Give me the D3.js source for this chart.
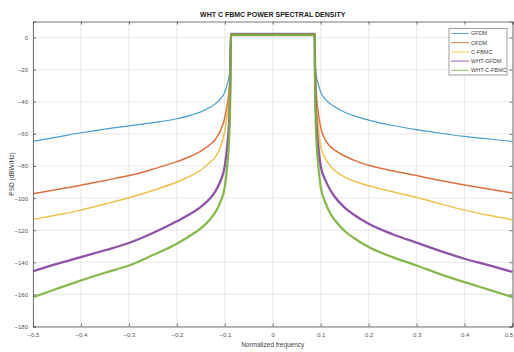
<!DOCTYPE html>
<html>
<head>
<meta charset="utf-8">
<script src="https://cdn.jsdelivr.net/npm/d3@7"></script>
<style>
  body { margin: 0; background: #fff; }
  svg { display: block; font-family: "Liberation Sans", Arial, sans-serif; }
</style>
</head>
<body>
<div id="visualizationBody"></div>
<script>
// normalized frequency samples (one value per point in every series)
const freq = [-0.5, -0.45, -0.4, -0.35, -0.3, -0.25, -0.2, -0.17, -0.15, -0.13, -0.12, -0.11, -0.1, -0.095, -0.09, -0.088, -0.0875,
              0.0875, 0.088, 0.09, 0.095, 0.1, 0.11, 0.12, 0.13, 0.15, 0.17, 0.2, 0.25, 0.3, 0.35, 0.4, 0.45, 0.5];

const gfdm = [-64.6, -62, -59.3, -57, -55, -53, -50.6, -48.3, -46.3, -43.3, -41.3, -38.5, -34, -29, -22, -8, 2.6,
              2.6, -8, -22, -29, -34, -38.5, -41.3, -43.3, -46.5, -48.8, -51.4, -54.8, -57.4, -59.6, -61.6, -63.2, -64.7];
const ofdm = [-97.3, -94.7, -92, -89, -86, -82, -77.3, -73.8, -70.8, -66.5, -63.5, -58.5, -50, -42, -28, -10, 2.2,
              2.2, -10, -30, -47, -56, -64, -67.8, -70.3, -73.8, -76.5, -79.5, -83, -86, -89, -91.8, -94.4, -96.9];
const cfbmc = [-113.3, -110.5, -107.5, -103.7, -99.8, -95.3, -90, -86, -82.5, -77.5, -74.5, -69, -58, -48, -31, -12, 2.0,
               2.0, -12, -35, -55, -68, -75.5, -80, -83, -87, -89.5, -92.3, -96, -99.6, -103.6, -107.5, -110.7, -113.5];
const whtGfdm = [-145.6, -141, -136.8, -132.5, -128, -121.8, -114.5, -109.5, -105.5, -100, -96, -90, -80, -68, -45, -15, 1.8,
                 1.8, -15, -45, -68, -80, -89, -95, -99.5, -106, -110.5, -116, -122.5, -127.8, -133, -137.8, -141.8, -146];
const whtCfbmc = [-161.8, -156.5, -151.3, -146.5, -142, -135.5, -128.4, -123, -118.8, -113, -109, -103, -93, -80, -55, -18, 1.5,
                  1.5, -18, -55, -80, -93, -103, -109.5, -114, -120.5, -125, -130.5, -136.8, -142, -147.5, -152.4, -157, -161.7];

const seriesNames = ['GFDM', 'OFDM', 'C-FBMC', 'WHT-GFDM', 'WHT-C-FBMC'];
const seriesValues = [gfdm, ofdm, cfbmc, whtGfdm, whtCfbmc];
const seriesColors = ['#3592cc', '#d9602a', '#ecbb35', '#8440a0', '#7cb03a'];
const seriesWidths = [1.2, 1.5, 1.5, 2.3, 2.3];

const xTicks = [-0.5, -0.4, -0.3, -0.2, -0.1, 0, 0.1, 0.2, 0.3, 0.4, 0.5];
const yTicks = [0, -20, -40, -60, -80, -100, -120, -140, -160, -180];

const width = 514, height = 352;
const margin = {top: 21.5, right: 1.5, bottom: 25.5, left: 33};

const svg = d3.select('#visualizationBody')
              .append('svg')
              .attr('width', width)
              .attr('height', height);

const x = d3.scaleLinear()
            .domain([-0.5, 0.5])
            .range([margin.left, width - margin.right]);

const y = d3.scaleLinear()
            .domain([-180, 10])
            .range([height - margin.bottom, margin.top]);

// grid
svg.append('g')
   .selectAll('line')
   .data(xTicks)
   .enter()
   .append('line')
     .attr('x1', function(d) { return x(d); })
     .attr('x2', function(d) { return x(d); })
     .attr('y1', y(10))
     .attr('y2', y(-180))
     .style('stroke', '#e3e3e3')
     .style('stroke-width', 0.8);

svg.append('g')
   .selectAll('line')
   .data(yTicks)
   .enter()
   .append('line')
     .attr('x1', x(-0.5))
     .attr('x2', x(0.5))
     .attr('y1', function(d) { return y(d); })
     .attr('y2', function(d) { return y(d); })
     .style('stroke', '#e3e3e3')
     .style('stroke-width', 0.8);

// curves
const line = d3.line()
               .x(function(d) { return x(d[0]); })
               .y(function(d) { return y(d[1]); })
               .curve(d3.curveMonotoneX);

const plotArea = svg.append('g');
seriesValues.forEach(function(vals, i) {
    plotArea.append('path')
        .datum(freq.map(function(f, j) { return [f, vals[j]]; }))
        .attr('d', line)
        .style('fill', 'none')
        .style('stroke', seriesColors[i])
        .style('stroke-width', seriesWidths[i])
        .style('opacity', 0.9);
});

// axes, matlab-style box with inward ticks
const axisColor = '#555';
const bottomAxis = d3.axisBottom(x).tickValues(xTicks).tickSize(-3).tickPadding(6)
                     .tickFormat(function(d) { return d3.format('')(d); });
const topAxis = d3.axisTop(x).tickValues(xTicks).tickSize(-3).tickFormat('');
const leftAxis = d3.axisLeft(y).tickValues(yTicks).tickSize(-3).tickPadding(5);
const rightAxis = d3.axisRight(y).tickValues(yTicks).tickSize(-3).tickFormat('');

function styleAxis(g) {
    g.select('.domain').style('stroke', axisColor).style('stroke-width', 0.8);
    g.selectAll('.tick line').style('stroke', axisColor).style('stroke-width', 0.8);
    g.selectAll('.tick text').style('fill', '#555').style('font-size', '6px');
}

const xAxisG = svg.append('g').attr('transform', `translate(0,${y(-180)})`).call(bottomAxis).call(styleAxis);
// last label sits on the window edge, keep it inside
xAxisG.selectAll('.tick text')
      .filter(function(d) { return d === 0.5; })
      .attr('text-anchor', 'end');
svg.append('g').attr('transform', `translate(0,${y(10)})`).call(topAxis).call(styleAxis);
svg.append('g').attr('transform', `translate(${x(-0.5)},0)`).call(leftAxis).call(styleAxis);
svg.append('g').attr('transform', `translate(${x(0.5)},0)`).call(rightAxis).call(styleAxis);

// titles
svg.append('text')
   .attr('x', x(0))
   .attr('y', 17)
   .attr('text-anchor', 'middle')
   .style('font-size', '7px')
   .style('font-weight', 'bold')
   .style('fill', '#222')
   .text('WHT C FBMC POWER SPECTRAL DENSITY');

svg.append('text')
   .attr('x', x(0))
   .attr('y', 347)
   .attr('text-anchor', 'middle')
   .style('font-size', '6.5px')
   .style('fill', '#444')
   .text('Normalized frequency');

svg.append('text')
   .attr('transform', `translate(14,${y(-85)}) rotate(-90)`)
   .attr('text-anchor', 'middle')
   .style('font-size', '6.5px')
   .style('fill', '#444')
   .text('PSD (dBW/Hz)');

// legend
const legend = svg.append('g').attr('transform', 'translate(449,28.5)');
legend.append('rect')
      .attr('width', 58)
      .attr('height', 46.5)
      .style('fill', '#fff')
      .style('stroke', '#888')
      .style('stroke-width', 0.8);

const entries = legend.selectAll('g.entry')
      .data(seriesNames)
      .enter()
      .append('g')
        .attr('class', 'entry')
        .attr('transform', function(d, i) { return `translate(0,${5 + i * 9.2})`; });

entries.append('line')
       .attr('x1', 2)
       .attr('x2', 20)
       .style('stroke', function(d, i) { return seriesColors[i]; })
       .style('stroke-width', 0.8);

entries.append('text')
       .attr('x', 22)
       .attr('dy', '0.35em')
       .style('font-size', '5.5px')
       .style('fill', '#444')
       .text(function(d) { return d; });
</script>
</body>
</html>
